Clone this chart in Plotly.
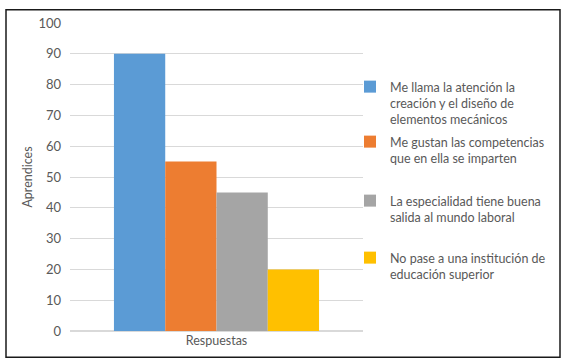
import plotly.graph_objects as go

categories = ["Respuestas"]
series_names = [
    "Me llama la atención la<br>creación y el diseño de<br>elementos mecánicos",
    "Me gustan las competencias<br>que en ella se imparten",
    "La especialidad tiene buena<br>salida al mundo laboral",
    "No pase a una institución de<br>educación superior",
]
series_values = [90, 55, 45, 20]
colors = ["#5B9BD5", "#ED7D31", "#A5A5A5", "#FFC000"]
y_ticks = [0, 10, 20, 30, 40, 50, 60, 70, 80, 90, 100]

W, H = 567, 363
PL, PR, PT, PB = 70, 363, 23.3, 330.7
FONT = "Lato"
TXT = "#595959"

legend_tops = [72, 127, 186, 243]
legend_names = ["legend", "legend2", "legend3", "legend4"]

fig = go.Figure()
for name, val, col, lg in zip(series_names, series_values, colors, legend_names):
    fig.add_trace(go.Bar(x=categories, y=[val], name=name, marker_color=col,
                         marker_line_width=0, legend=lg))

layout_legends = {}
for lg, top in zip(legend_names, legend_tops):
    layout_legends[lg] = dict(
        xref="container", yref="container", x=350 / W, y=1 - top / H,
        xanchor="left", yanchor="top", valign="top",
        font=dict(family=FONT, size=12.5, color=TXT),
        bgcolor="rgba(0,0,0,0)", itemwidth=30,
    )

def px_x(p):
    return (p - PL) / (PR - PL)

def px_y(p):
    return (PB - p) / (PB - PT)

fig.update_layout(
    width=W, height=H,
    margin=dict(l=PL, r=W - PR, t=PT, b=H - PB, autoexpand=False),
    paper_bgcolor="white", plot_bgcolor="white",
    barmode="group", bargap=0.3, bargroupgap=0,
    font=dict(family=FONT, color=TXT, size=12),
    showlegend=True,
    **layout_legends,
    shapes=[dict(type="rect", xref="paper", yref="paper",
                 x0=px_x(6), x1=px_x(560), y0=px_y(357), y1=px_y(10),
                 line=dict(color="#1a1a1a", width=1.5), fillcolor="rgba(0,0,0,0)",
                 layer="below")],
)
fig.update_yaxes(range=[0, 100], tickvals=y_ticks, showgrid=True, gridcolor="#D9D9D9",
                 gridwidth=1, zeroline=True, zerolinecolor="#D9D9D9", showline=False,
                 ticks="", ticklabelstandoff=8, automargin=False,
                 tickfont=dict(family=FONT, size=13, color=TXT),
                 title=dict(text="Aprendices", standoff=3,
                            font=dict(family=FONT, size=12.5, color=TXT)))
fig.update_xaxes(showline=False, ticks="", showgrid=False, automargin=False,
                 tickfont=dict(family=FONT, size=12.5, color=TXT))

fig.write_html("out.html", config={"displayModeBar": False},
               post_script="document.body.style.margin='0px';document.body.style.overflow='hidden';")
